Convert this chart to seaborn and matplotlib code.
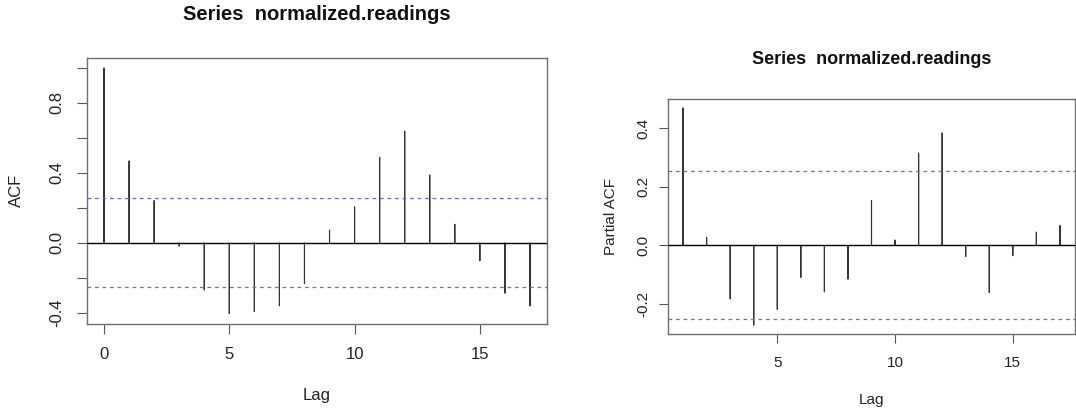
import matplotlib
matplotlib.use("Agg")
import matplotlib.pyplot as plt
import seaborn as sns
import numpy as np
import pandas as pd

# ---- data ----
title_text = "Series  normalized.readings"
acf_lags = list(range(0, 18))
acf_values = [1.000, 0.469, 0.242, -0.021, -0.271, -0.406, -0.394, -0.362, -0.235,
              0.073, 0.206, 0.488, 0.638, 0.388, 0.106, -0.104, -0.290, -0.363]
pacf_lags = list(range(1, 18))
pacf_values = [0.470, 0.027, -0.184, -0.274, -0.220, -0.111, -0.160, -0.117, 0.153,
               0.018, 0.315, 0.384, -0.039, -0.163, -0.036, 0.045, 0.068]
conf_limit = 0.253
acf_yticks = [-0.4, -0.2, 0.0, 0.2, 0.4, 0.6, 0.8, 1.0]
acf_yticklabels = ["-0.4", "", "0.0", "", "0.4", "", "0.8", ""]
acf_xticks = [0, 5, 10, 15]
pacf_yticks = [-0.2, 0.0, 0.2, 0.4]
pacf_yticklabels = ["-0.2", "0.0", "0.2", "0.4"]
pacf_xticks = [5, 10, 15]

sns.set_theme(style="white")
plt.rcParams["font.family"] = ["Liberation Sans", "DejaVu Sans"]

BAR = "#333333"
BOX = "#707070"
BLUE = "#6666ff"


def r_lim(vals):
    lo, hi = min(vals), max(vals)
    ext = 0.04 * (hi - lo)
    return lo - ext, hi + ext


def draw(ax, lags, vals, ylabel, yticks, yticklabels, xticks, fs, title_fs,
         tick_len, ypad, xpad, title_y, xlabel_y, ylabel_x):
    df = pd.DataFrame({"lag": lags, "value": vals})
    sns.barplot(data=df, x="lag", y="value", native_scale=True, width=1e-6,
                color=BAR, edgecolor=BAR, linewidth=0.8, saturation=1,
                errorbar=None, snap=False, ax=ax)
    ax.axhline(0, color="black", lw=1.0, zorder=3)
    for c in (conf_limit, -conf_limit):
        ax.axhline(c, color=BLUE, lw=0.9, ls=(0, (3, 3)), zorder=3)
    ax.set_xlim(*r_lim(lags))
    ax.set_ylim(*r_lim(list(vals) + [conf_limit, -conf_limit]))
    ax.set_xticks(xticks)
    ax.set_xticklabels([str(t) for t in xticks], fontsize=fs)
    ax.set_yticks(yticks)
    ax.set_yticklabels(yticklabels, fontsize=fs, rotation=90, va="center")
    ax.tick_params(axis="both", which="both", direction="out", length=tick_len,
                   width=0.8, color="#555555", labelcolor="#222222",
                   bottom=True, left=True)
    ax.tick_params(axis="y", pad=ypad)
    ax.tick_params(axis="x", pad=xpad)
    for s in ax.spines.values():
        s.set_color(BOX)
        s.set_linewidth(1.0)
        s.set_visible(True)
    ax.set_xlabel("Lag", fontsize=fs, color="#222222")
    ax.set_ylabel(ylabel, fontsize=fs, color="#222222")
    ax.xaxis.set_label_coords(0.5, xlabel_y)
    ax.yaxis.set_label_coords(ylabel_x, 0.5)
    ax.set_title(title_text, fontsize=title_fs, fontweight="bold", y=title_y,
                 pad=0, va="baseline", color="#111111")
    ax.grid(False)


fig = plt.figure(figsize=(10.76, 4.12), dpi=100)
W, H = 1076, 412
ax1 = fig.add_axes([87 / W, 1 - 323.5 / H, 460 / W, 265.5 / H])
ax2 = fig.add_axes([668 / W, 1 - 334 / H, 407 / W, 235 / H])

draw(ax1, acf_lags, acf_values, "ACF", acf_yticks, acf_yticklabels, acf_xticks,
     fs=12, title_fs=14.5, tick_len=7.2, ypad=9, xpad=10,
     title_y=1 + 38.5 / 265.5, xlabel_y=-(388 - 323.5) / 265.5,
     ylabel_x=(24.3 - 87) / 460)
draw(ax2, pacf_lags, pacf_values, "Partial ACF", pacf_yticks, pacf_yticklabels,
     pacf_xticks, fs=11, title_fs=13, tick_len=6.5, ypad=6.5, xpad=9.5,
     title_y=1 + 34.7 / 235, xlabel_y=-(393 - 334) / 235,
     ylabel_x=-(668 - 618) / 407)

fig.savefig("out.png", dpi=100, facecolor="white")
